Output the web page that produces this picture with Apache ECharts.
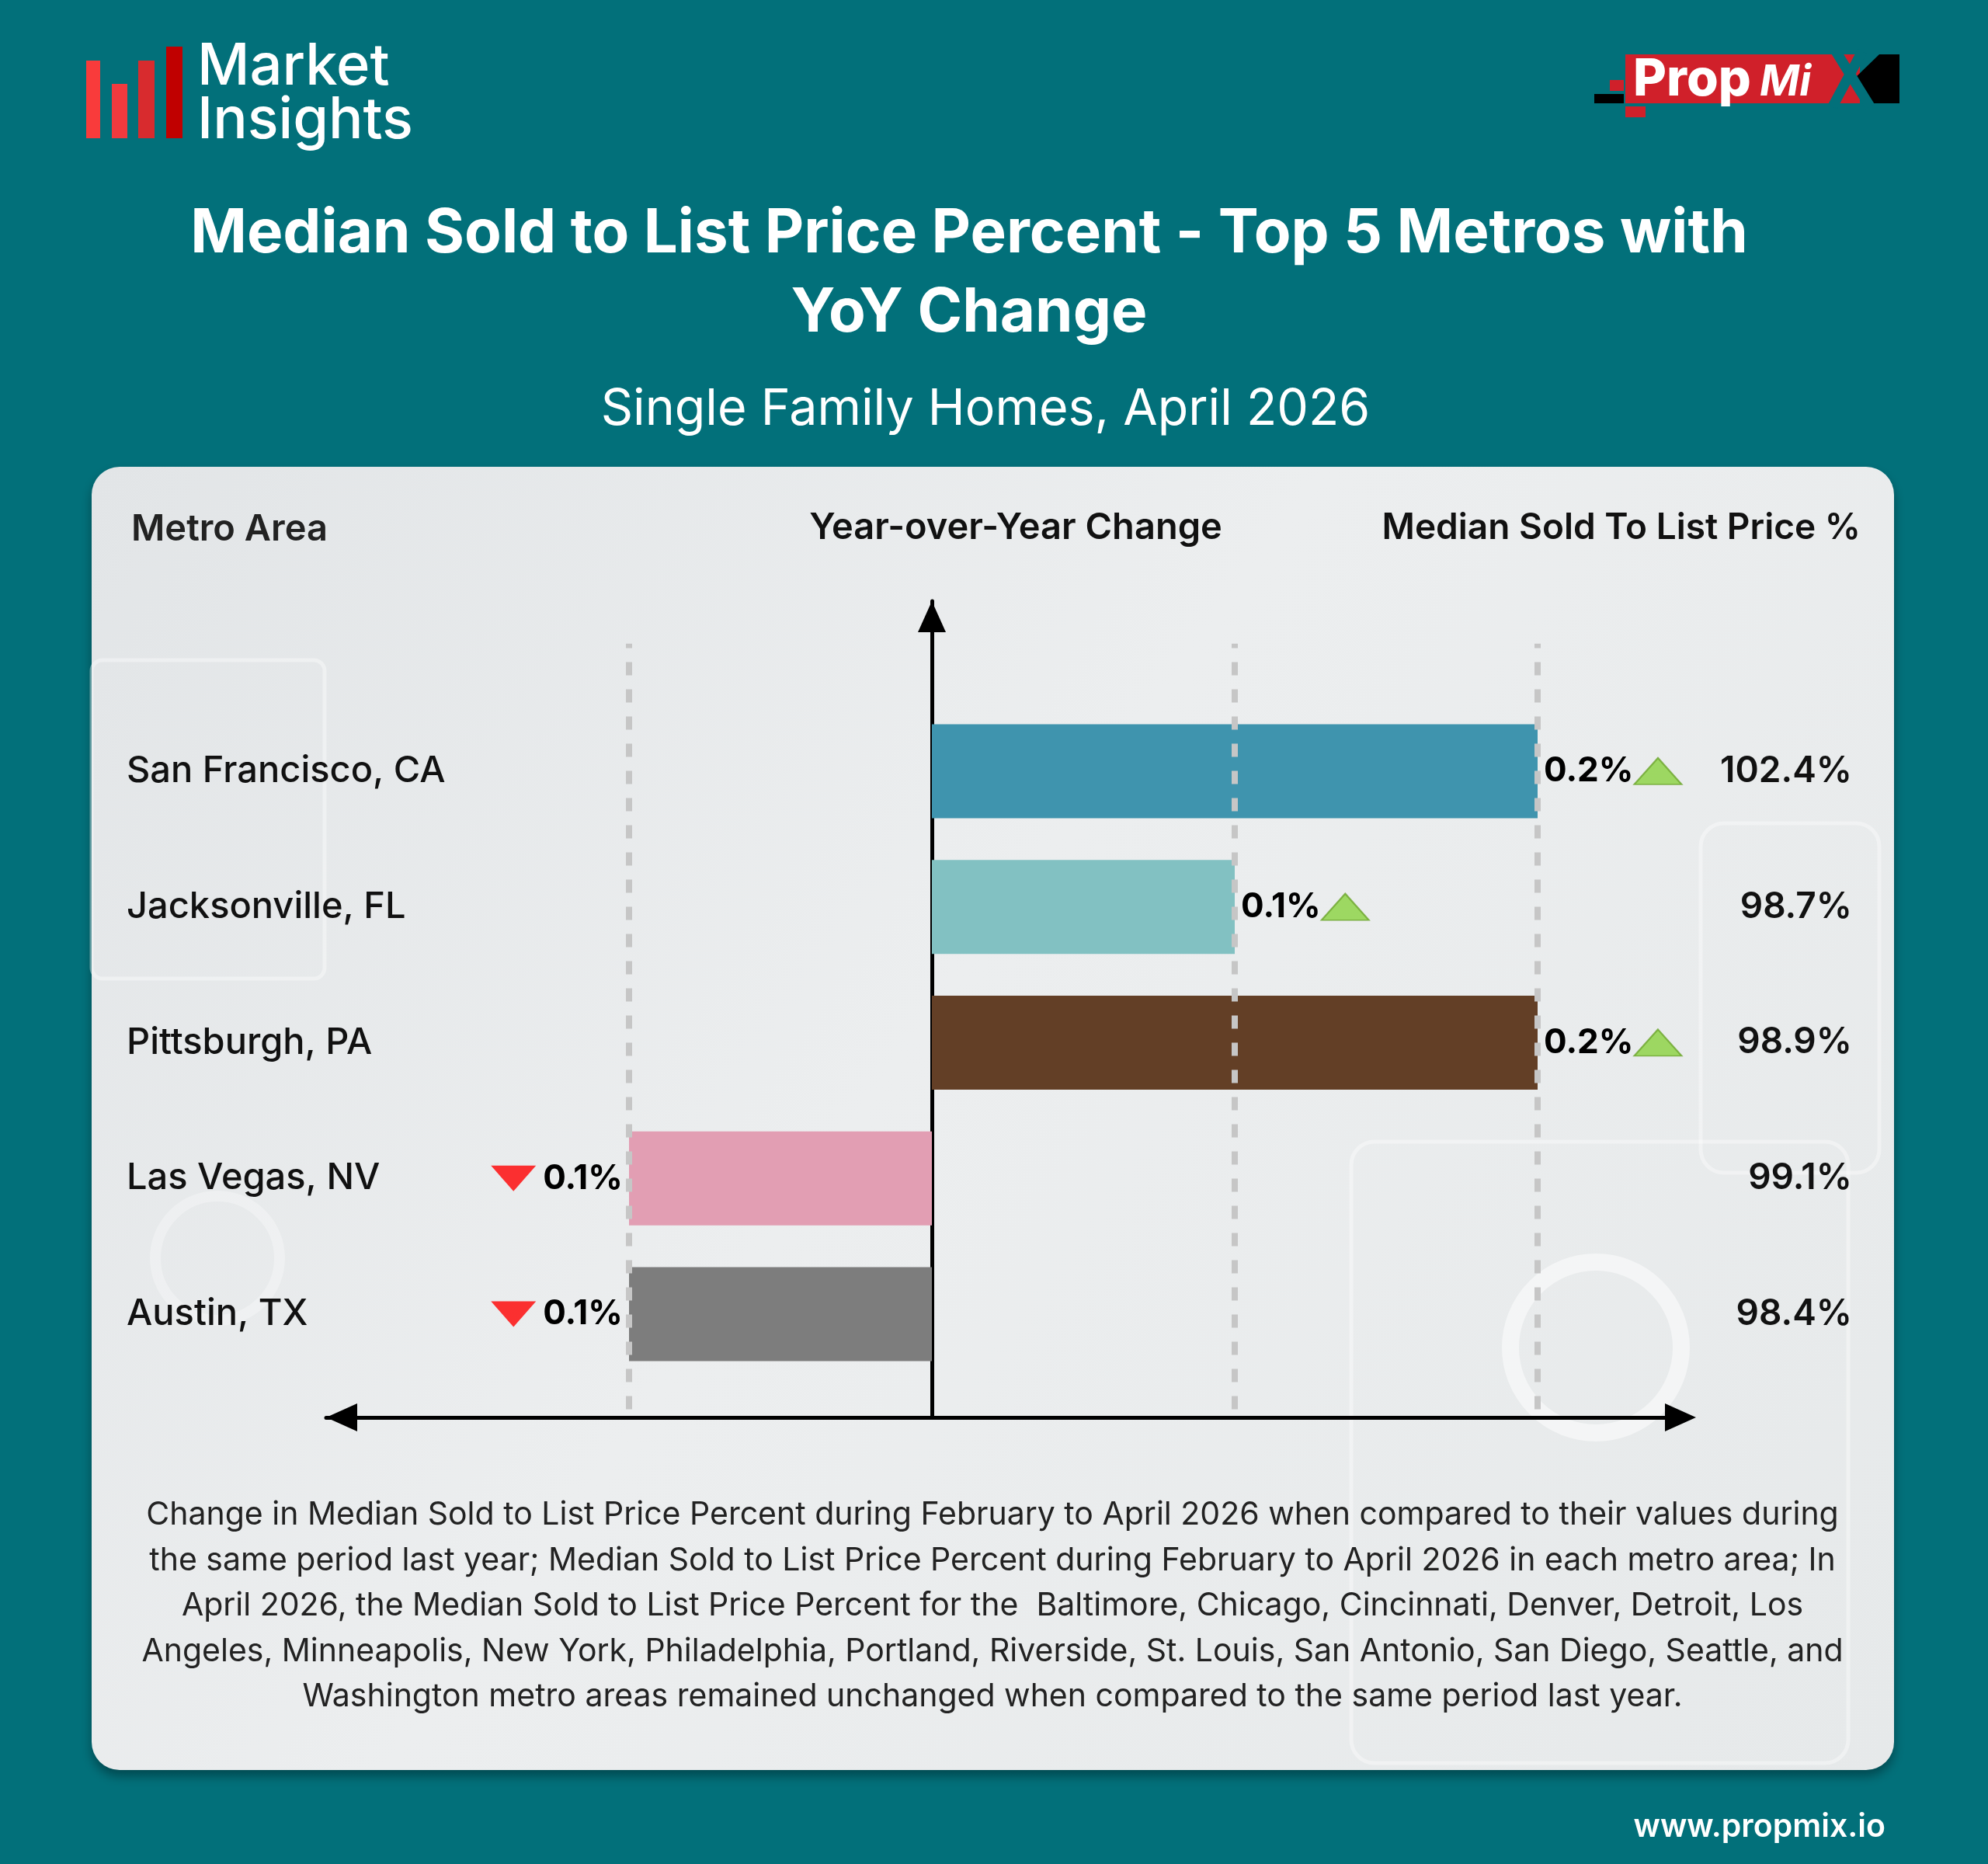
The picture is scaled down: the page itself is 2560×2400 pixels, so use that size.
<!DOCTYPE html>
<html>
<head>
<meta charset="utf-8">
<style>
  html, body { margin: 0; padding: 0; background: #02707A; }
  #chart { width: 2560px; height: 2400px; }
</style>
<script src="https://cdn.jsdelivr.net/npm/echarts@6/dist/echarts.min.js"></script>
</head>
<body>
<div id="chart"></div>
<script>
// ---------- data ----------
const categories = ['San Francisco, CA', 'Jacksonville, FL', 'Pittsburgh, PA', 'Las Vegas, NV', 'Austin, TX'];
const yoyChange = [0.2, 0.1, 0.2, -0.1, -0.1];
const medianSoldToList = [102.4, 98.7, 98.9, 99.1, 98.4];
const barColors = ['#3F94AE', '#82C1C2', '#633F26', '#E29EB3', '#7D7D7D'];
const gridLineTicks = [-0.1, 0.1, 0.2];
const xMin = -0.2, xMax = 0.25, xInterval = 0.1;

const titleText = 'Median Sold to List Price Percent - Top 5 Metros with\nYoY Change';
const subtitleText = 'Single Family Homes, April 2026';
const footnoteLines = [
  'Change in Median Sold to List Price Percent during February to April 2026 when compared to their values during',
  'the same period last year; Median Sold to List Price Percent during February to April 2026 in each metro area; In',
  'April 2026, the Median Sold to List Price Percent for the  Baltimore, Chicago, Cincinnati, Denver, Detroit, Los',
  'Angeles, Minneapolis, New York, Philadelphia, Portland, Riverside, St. Louis, San Antonio, San Diego, Seattle, and',
  'Washington metro areas remained unchanged when compared to the same period last year.'
];

const FONT = 'Inter, "Noto Sans", sans-serif';
const chart = echarts.init(document.getElementById('chart'), null, { renderer: 'canvas' });

const GL = 420, GW = 1755;
const deco = 'rgba(255,255,255,0.38)';

// bar value label settings and width measurement (to place the arrow markers right after the text)
const LABEL_FONT_SIZE = 44, LABEL_DIST = 8;
const fmtChange = v => Math.abs(v).toFixed(1) + '%';
const measureCtx = document.createElement('canvas').getContext('2d');
measureCtx.font = '700 ' + LABEL_FONT_SIZE + 'px ' + FONT;
const textW = s => measureCtx.measureText(s).width;
const UP_SIZE = [61, 34], DOWN_SIZE = [58, 33];

const option = {
  animation: false,
  backgroundColor: '#02707A',
  graphic: [
    // card
    { type: 'rect', z: -10, shape: { x: 118, y: 601, width: 2321, height: 1678, r: 36 },
      style: {
        fill: new echarts.graphic.LinearGradient(0, 0, 1, 1, [
          { offset: 0, color: '#E2E5E7' }, { offset: 0.45, color: '#ECEEEF' }, { offset: 1, color: '#E6E9EA' }
        ]),
        shadowBlur: 14, shadowOffsetY: 8, shadowColor: 'rgba(0,40,45,0.55)'
      } },
    // faint decorative shapes on card
    { type: 'rect', z: -9, shape: { x: 118, y: 850, width: 300, height: 410, r: 14 },
      style: { fill: 'none', stroke: deco, lineWidth: 5 } },
    { type: 'rect', z: -9, shape: { x: 1740, y: 1470, width: 640, height: 800, r: 30 },
      style: { fill: 'none', stroke: deco, lineWidth: 5 } },
    { type: 'rect', z: -9, shape: { x: 2190, y: 1060, width: 230, height: 450, r: 30 },
      style: { fill: 'none', stroke: deco, lineWidth: 5 } },
    { type: 'arc', z: -9, shape: { cx: 2055, cy: 1735, r: 110 },
      style: { fill: 'none', stroke: 'rgba(255,255,255,0.5)', lineWidth: 22 } },
    { type: 'arc', z: -9, shape: { cx: 280, cy: 1620, r: 80 },
      style: { fill: 'none', stroke: 'rgba(255,255,255,0.3)', lineWidth: 14 } },

    // Market Insights logo
    { type: 'rect', shape: { x: 111, y: 78, width: 18, height: 100 }, style: { fill: '#F93B3B' } },
    { type: 'rect', shape: { x: 144, y: 108, width: 20, height: 70 }, style: { fill: '#F13A3E' } },
    { type: 'rect', shape: { x: 178, y: 78, width: 21, height: 100 }, style: { fill: '#D82B2E' } },
    { type: 'rect', shape: { x: 214, y: 60, width: 21, height: 118 }, style: { fill: '#C00000' } },
    { type: 'text', x: 254, y: 87, style: { text: 'Market', fill: '#FFFFFF', font: '500 74px ' + FONT, verticalAlign: 'middle' } },
    { type: 'text', x: 254, y: 156, style: { text: 'Insights', fill: '#FFFFFF', font: '500 74px ' + FONT, verticalAlign: 'middle' } },

    // PropMix logo
    { type: 'rect', shape: { x: 2053, y: 121, width: 38, height: 12 }, style: { fill: '#000000' } },
    { type: 'rect', shape: { x: 2073, y: 103, width: 18, height: 14 }, style: { fill: '#D0202A' } },
    { type: 'rect', shape: { x: 2093, y: 137, width: 26, height: 14 }, style: { fill: '#D0202A' } },
    { type: 'rect', shape: { x: 2093, y: 70, width: 302, height: 63 }, style: { fill: '#D0202A' } },
    { type: 'polygon', shape: { points: [[2420, 70], [2446, 70], [2446, 133], [2408, 133], [2388, 101]] }, style: { fill: '#000000' } },
    { type: 'line', shape: { x1: 2364, y1: 66, x2: 2408, y2: 137 }, style: { stroke: '#02707A', lineWidth: 13 } },
    { type: 'line', shape: { x1: 2398, y1: 66, x2: 2360, y2: 137 }, style: { stroke: '#02707A', lineWidth: 13 } },
    { type: 'text', x: 2103, y: 103, style: { text: 'Prop', fill: '#FFFFFF', font: '800 66px ' + FONT, verticalAlign: 'middle' } },
    { type: 'text', x: 2266, y: 106, style: { text: 'Mi', fill: '#FFFFFF', font: 'italic 700 55px ' + FONT, verticalAlign: 'middle' } },

    // title & subtitle
    { type: 'text', x: 1248, y: 353, style: { text: titleText, fill: '#FFFFFF', font: '700 78px ' + FONT, align: 'center', verticalAlign: 'middle', lineHeight: 102 } },
    { type: 'text', x: 1269, y: 528, style: { text: subtitleText, fill: '#FFFFFF', font: '400 64.5px ' + FONT, align: 'center', verticalAlign: 'middle' } },

    // column headers
    { type: 'text', x: 169, y: 682, style: { text: 'Metro Area', fill: '#222222', font: '600 47px ' + FONT, verticalAlign: 'middle' } },
    { type: 'text', x: 1308, y: 680, style: { text: 'Year-over-Year Change', fill: '#111111', font: '600 47px ' + FONT, align: 'center', verticalAlign: 'middle' } },
    { type: 'text', x: 2396, y: 680, style: { text: 'Median Sold To List Price %', fill: '#111111', font: '600 46px ' + FONT, align: 'right', verticalAlign: 'middle' } },

    // footnote
    { type: 'text', x: 1278, y: 2068, style: { text: footnoteLines.join('\n'), fill: '#222222', font: '400 41px ' + FONT, align: 'center', verticalAlign: 'middle', lineHeight: 58.5 } },
    { type: 'text', x: 2428, y: 2353, style: { text: 'www.propmix.io', fill: '#FFFFFF', font: '600 41px ' + FONT, align: 'right', verticalAlign: 'middle' } }
  ],
  grid: [
    { left: GL, width: GW, top: 774, height: 1051, outerBoundsMode: 'none', containLabel: false },
    { left: GL, width: GW, top: 905.5, height: 874, outerBoundsMode: 'none', containLabel: false }
  ],
  xAxis: [
    { type: 'value', gridIndex: 0, min: xMin, max: xMax, interval: xInterval, position: 'bottom',
      axisLine: { show: true, onZero: false, symbol: ['triangle', 'triangle'], symbolSize: [36, 40], symbolOffset: [20, -11],
        lineStyle: { color: '#000000', width: 5 } },
      axisTick: { show: false }, axisLabel: { show: false }, splitLine: { show: false } },
    { type: 'value', gridIndex: 1, min: xMin, max: xMax, interval: xInterval, show: false, splitLine: { show: false } }
  ],
  yAxis: [
    { type: 'value', gridIndex: 0, min: 0, max: 1,
      axisLine: { show: true, onZero: true, symbol: ['none', 'triangle'], symbolSize: [36, 40], symbolOffset: [0, -20],
        lineStyle: { color: '#000000', width: 5 } },
      axisTick: { show: false }, axisLabel: { show: false }, splitLine: { show: false } },
    { type: 'category', gridIndex: 1, data: categories, inverse: true,
      axisLine: { show: false }, axisTick: { show: false }, splitLine: { show: false },
      axisLabel: { show: true, align: 'left', margin: GL - 163, color: '#111111', fontFamily: FONT, fontSize: 47, fontWeight: 500 } },
    { type: 'category', gridIndex: 1, data: medianSoldToList.map(v => v.toFixed(1) + '%'), inverse: true, position: 'right',
      axisLine: { show: false }, axisTick: { show: false }, splitLine: { show: false },
      axisLabel: { show: true, align: 'right', margin: 2385 - (GL + GW), color: '#111111', fontFamily: FONT, fontSize: 46, fontWeight: 600,
        padding: [6, 0, 0, 0] } }
  ],
  series: [
    { type: 'line', xAxisIndex: 0, yAxisIndex: 0, data: [], silent: true,
      markLine: { silent: true, symbol: ['none', 'none'], label: { show: false },
        lineStyle: { color: '#C6C6C6', width: 8, type: [17, 18] },
        data: gridLineTicks.map(t => [{ coord: [t, 0.01] }, { coord: [t, 0.948] }]) } },
    { type: 'bar', xAxisIndex: 1, yAxisIndex: 1, barWidth: 121, z: 3,
      data: yoyChange.map((v, i) => ({
        value: v,
        itemStyle: { color: barColors[i] },
        label: { position: v < 0 ? 'left' : 'right' }
      })),
      label: { show: true, distance: LABEL_DIST, color: '#000000', fontFamily: FONT, fontSize: LABEL_FONT_SIZE, fontWeight: 700,
        formatter: p => fmtChange(p.value) } },
    { type: 'scatter', xAxisIndex: 1, yAxisIndex: 1, z: 5, silent: true,
      data: yoyChange.map((v, i) => {
        const w = textW(fmtChange(v));
        const off = v < 0
          ? -(LABEL_DIST + w + 9 + DOWN_SIZE[0] / 2)
          : (LABEL_DIST + w + 1 + UP_SIZE[0] / 2);
        return {
          value: [v, categories[i]],
          symbol: 'triangle',
          symbolSize: v < 0 ? DOWN_SIZE : UP_SIZE,
          symbolRotate: v < 0 ? 180 : 0,
          symbolOffset: [off, 0],
          itemStyle: v < 0 ? { color: '#FF0000' } : { color: '#8AD23F', borderColor: '#6BA52C', borderWidth: 2 }
        };
      }) }
  ]
};
chart.setOption(option);
</script>
</body>
</html>
